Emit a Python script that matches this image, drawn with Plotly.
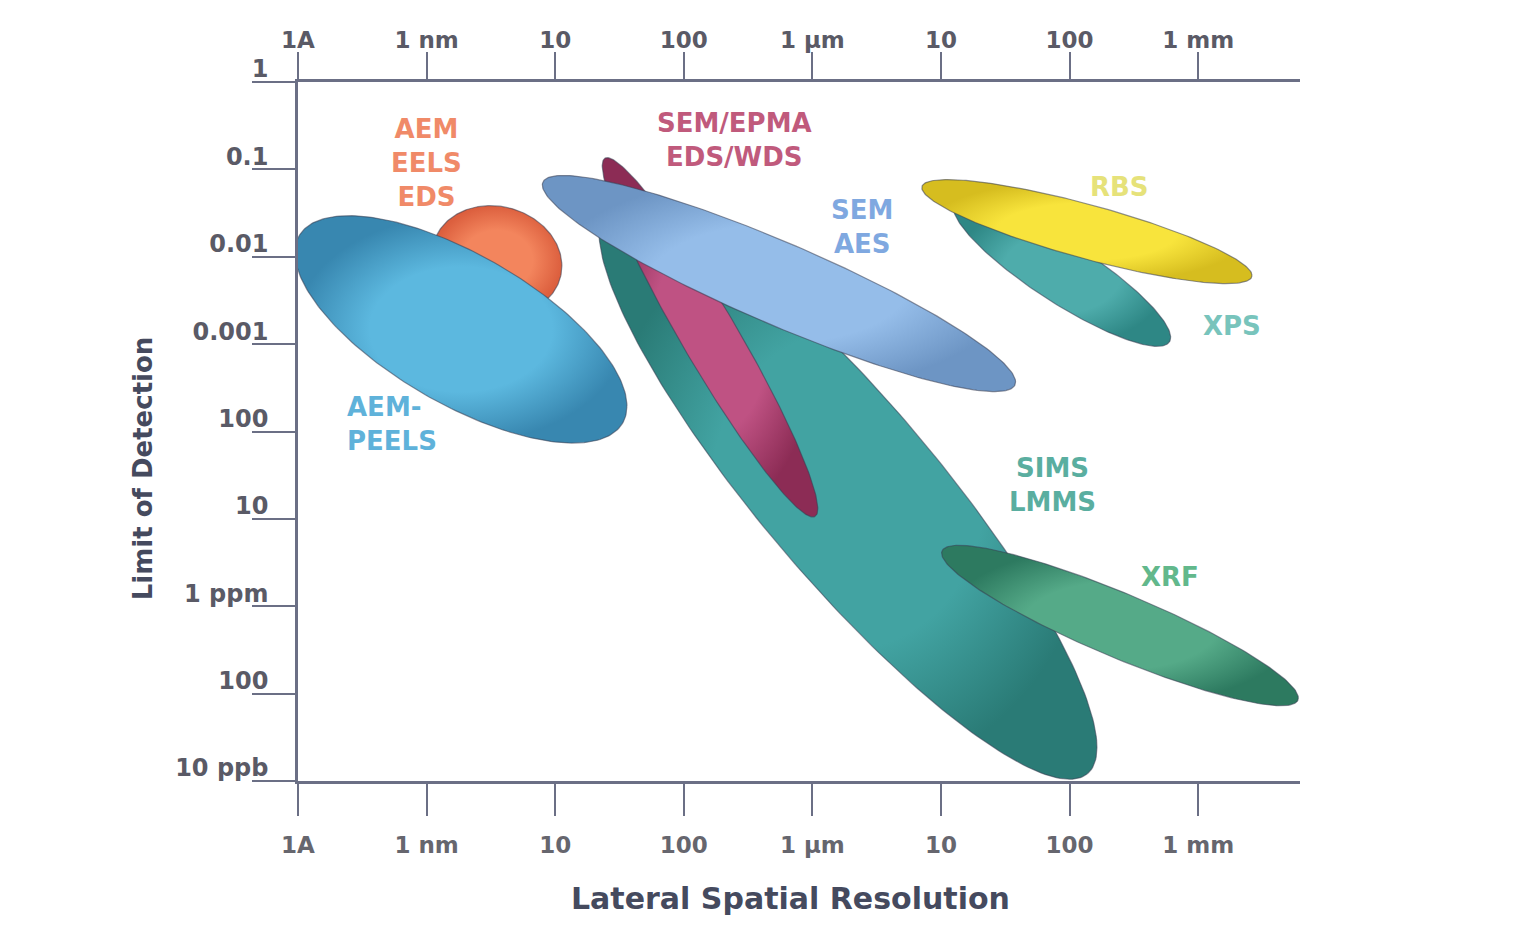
import numpy as np
import plotly.graph_objects as go

# ---------------- data ----------------
# x: lateral spatial resolution, log10(metres); y: limit of detection, log10(fraction)
x_tick_vals = [-10, -9, -8, -7, -6, -5, -4, -3]
x_tick_text = ["1A", "1 nm", "10", "100", "1 µm", "10", "100", "1 mm"]
y_tick_vals = [0, -1, -2, -3, -4, -5, -6, -7, -8]
y_tick_text = ["1", "0.1", "0.01", "0.001", "100", "10", "1 ppm", "100", "10 ppb"]

# technique regions (drawing order = back to front)
techniques = ["AEM/EELS/EDS", "AEM-PEELS", "SIMS/LMMS", "SEM/EPMA EDS/WDS",
              "SEM/AES", "XPS", "RBS", "XRF"]
center_res = [-8.453, -8.733, -5.723, -6.796, -6.260, -4.059, -3.865, -3.608]
center_lod = [-2.043, -2.831, -4.669, -2.922, -2.306, -2.180, -1.712, -6.221]
half_span_res = [0.505, 1.291, 1.936, 0.838, 1.840, 0.845, 1.284, 1.387]
half_span_lod = [0.628, 1.301, 3.311, 2.056, 1.237, 0.846, 0.595, 0.918]
# fraction of the vertical half-span by which the left end sits above the centre
tilt = [0.10, 0.675, 0.89, 0.954, 0.911, 0.878, 0.844, 0.902]

# labels
label_text = ["AEM<br>EELS<br>EDS", "AEM-<br>PEELS", "SIMS<br>LMMS", "SEM/EPMA<br>EDS/WDS",
              "SEM<br>AES", "XPS", "RBS", "XRF"]
label_res = [-8.997, -9.635, -4.129, -6.602, -5.614, -2.737, -3.608, -3.219]
label_lod = [-0.925, -3.916, -4.612, -0.662, -1.655, -2.797, -1.199, -5.662]

# ---------------- styles ----------------
fill_inner = ["#f3855d", "#5cb8df", "#42a3a2", "#bf5283", "#95bde9", "#4eacab", "#f8e43c", "#55aa88"]
fill_outer = ["#dc5f3e", "#3887b0", "#2a7b76", "#8c2c55", "#6d95c4", "#2e8785", "#d6bd1f", "#2d7a60"]
label_color = ["#f08a68", "#5fb2da", "#5aaea0", "#c05a7c", "#7fa8e0", "#78c4bc", "#e6e27a", "#62b88c"]
label_anchor = ["center", "left", "center", "center", "center", "center", "center", "center"]

axis_color = "#6b6f85"
font_family = "DejaVu Sans, Verdana, sans-serif"

fig = go.Figure()

t = np.linspace(0, 2 * np.pi, 240)
for i, name in enumerate(techniques):
    phi = np.arccos(tilt[i])
    xs = center_res[i] + half_span_res[i] * np.cos(t)
    ys = center_lod[i] - half_span_lod[i] * np.cos(t - phi)
    fig.add_trace(go.Scatter(
        x=xs, y=ys, mode="lines", fill="toself", name=name,
        line=dict(color="rgba(55,60,80,0.55)", width=1.2),
        fillcolor=fill_inner[i],
        fillgradient=dict(type="radial",
                          colorscale=[[0, fill_inner[i]], [0.55, fill_inner[i]], [1, fill_outer[i]]]),
        hoverinfo="name", showlegend=False,
    ))

# invisible trace for the top axis
fig.add_trace(go.Scatter(x=x_tick_vals, y=[None] * len(x_tick_vals), xaxis="x2",
                         mode="lines", showlegend=False, hoverinfo="skip"))

for i in range(len(techniques)):
    fig.add_annotation(
        x=label_res[i], y=label_lod[i], text=label_text[i], showarrow=False,
        xanchor=label_anchor[i], align=label_anchor[i],
        font=dict(family=font_family, size=26, color=label_color[i], weight="bold"),
    )

fig.add_annotation(
    xref="paper", yref="paper", x=-0.155, y=0.447, text="Limit of Detection",
    textangle=-90, showarrow=False, xanchor="center", yanchor="middle",
    font=dict(family=font_family, size=26, color="#454a5e", weight="bold"),
)
fig.add_annotation(
    xref="paper", yref="paper", x=0.492, y=-0.168, text="Lateral Spatial Resolution",
    showarrow=False, xanchor="center", yanchor="middle",
    font=dict(family=font_family, size=30, color="#454a5e", weight="bold"),
)

x_range = [-10.0, -2.208]

fig.update_layout(
    width=1505, height=912,
    margin=dict(l=290, r=213, t=74, b=139, autoexpand=False),
    paper_bgcolor="white", plot_bgcolor="white",
    xaxis=dict(
        range=x_range, tickvals=x_tick_vals, ticktext=x_tick_text, automargin=False,
        showgrid=False, zeroline=False, showline=True, linecolor=axis_color, linewidth=2.5,
        ticks="outside", ticklen=32, tickwidth=2, tickcolor=axis_color,
        ticklabelstandoff=10,
        tickfont=dict(family=font_family, size=23, color="#66666e", weight="bold"),
    ),
    xaxis2=dict(
        overlaying="x", side="top", range=x_range, automargin=False,
        tickvals=x_tick_vals, ticktext=x_tick_text,
        showgrid=False, zeroline=False, showline=True, linecolor=axis_color, linewidth=2.5,
        ticks="outside", ticklen=27, tickwidth=2, tickcolor=axis_color,
        ticklabelstandoff=-5,
        tickfont=dict(family=font_family, size=23, color="#5a5a66", weight="bold"),
    ),
    yaxis=dict(
        range=[-8, 0], tickvals=y_tick_vals, ticktext=y_tick_text, automargin=False,
        showgrid=False, zeroline=False, showline=True, linecolor=axis_color, linewidth=2.5,
        ticks="outside", ticklen=43, tickwidth=2, tickcolor=axis_color,
        ticklabelstandoff=-21, ticklabelshift=-13,
        tickfont=dict(family=font_family, size=24, color="#5a5a66", weight="bold"),
    ),
)

fig.write_html("out.html")
